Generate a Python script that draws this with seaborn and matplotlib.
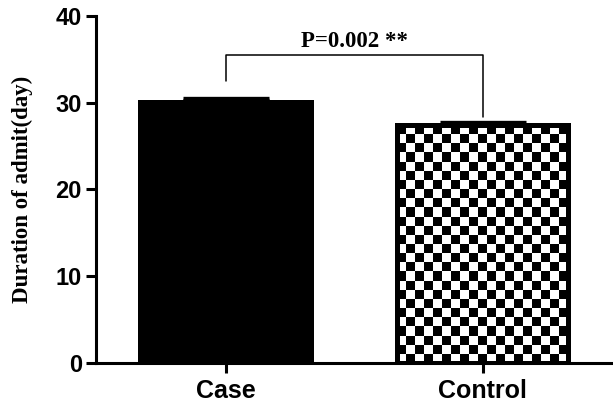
import numpy as np
import pandas as pd
import matplotlib
matplotlib.use("Agg")
import matplotlib.pyplot as plt
import seaborn as sns

# group means and SEM
groups = ["Case", "Control"]
means = [30.3, 27.4]
sems = [0.28, 0.4]
p_text = "P=0.002 **"
y_ticks = [0, 10, 20, 30, 40]

df = pd.DataFrame({"group": groups, "days": means})

sns.set_style("ticks")
plt.rcParams["font.family"] = ["Liberation Sans", "DejaVu Sans"]
plt.rcParams["text.color"] = "black"
plt.rcParams["axes.labelcolor"] = "black"

fig = plt.figure(figsize=(6.13, 4.05), dpi=100)
ax = fig.add_axes([96 / 613, 1 - 363 / 405, 1 - 96 / 613, 347 / 405])

sns.barplot(data=df, x="group", y="days", ax=ax, width=0.685, errorbar=None,
            color="black", saturation=1)
ax.set_xlim(-0.505, 1.507)
ax.set_ylim(0, 40)

# style bars: solid black for Case, checkerboard for Control
bars = ax.patches
bars[0].set_linewidth(0)
bars[1].set_edgecolor("black")
bars[1].set_linewidth(3.6)
bars[1].set_width(0.665)
bars[1].set_x(1 - 0.665 / 2)

# checkerboard fill clipped to the Control bar
fig.canvas.draw()
bb = bars[1].get_bbox()
p0 = ax.transData.transform((bb.x0, bb.y0))
p1 = ax.transData.transform((bb.x1, bb.y1))
cell = 9.2
nx = int(round((p1[0] - p0[0]) / cell))
ny = int(round((p1[1] - p0[1]) / cell))
ii, jj = np.indices((ny, nx))
board = ((ii + jj) % 2).astype(float)
img = ax.imshow(board, cmap="gray", interpolation="nearest", aspect="auto",
                extent=(bb.x0, bb.x1, bb.y0, bb.y1), zorder=bars[1].get_zorder() - 0.1)
img.set_clip_path(bars[1])
bars[1].set_facecolor("none")
ax.set_xlim(-0.505, 1.507)
ax.set_ylim(0, 40)

# upper-only error bars
ax.errorbar(range(len(groups)), means, yerr=[np.zeros(len(sems)), sems],
            fmt="none", ecolor="black", elinewidth=1.5, capsize=31, capthick=2.4,
            zorder=5)

# significance bracket
bracket_y = 35.5
ax.plot([0, 0, 1, 1], [32.5, bracket_y, bracket_y, 28.3], color="black", lw=1.1,
        clip_on=False)
ax.text(0.5, bracket_y + 0.35, p_text, ha="center", va="bottom", fontsize=16.5,
        fontweight="bold", color="black",
        family=["Liberation Serif", "DejaVu Serif"])

# axes styling
for side in ["top", "right"]:
    ax.spines[side].set_visible(False)
for side in ["left", "bottom"]:
    ax.spines[side].set_linewidth(2.2)
    ax.spines[side].set_color("black")
ax.set_yticks(y_ticks)
ax.tick_params(axis="both", length=7.2, width=2.2, color="black",
               labelcolor="black")
ax.tick_params(axis="y", pad=3, labelsize=17)
ax.tick_params(axis="x", pad=4, labelsize=18)
for lab in ax.get_xticklabels() + ax.get_yticklabels():
    lab.set_fontweight("bold")

ax.set_xlabel("")
ax.set_ylabel("Duration of admit(day)", fontsize=16.5, fontweight="bold",
              color="black", family=["Liberation Serif", "DejaVu Serif"])
ax.yaxis.set_label_coords(-0.122, 0.5)

fig.savefig("out.png", dpi=100)
